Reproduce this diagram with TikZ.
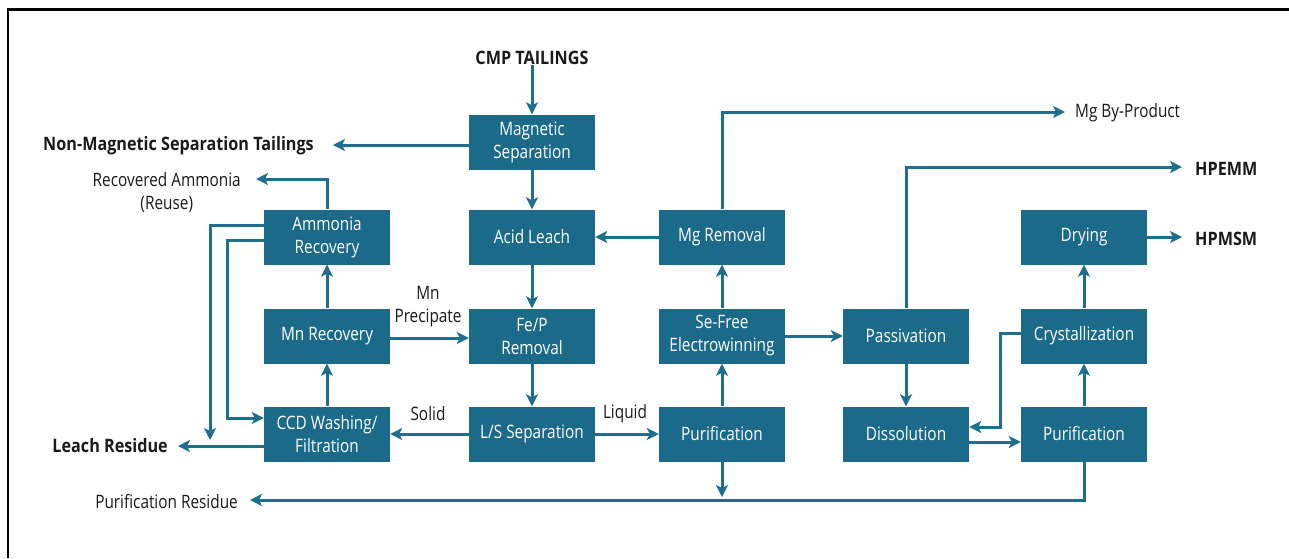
\documentclass[tikz,border=0pt]{standalone}
\usepackage{fontspec}
\setmainfont{Open Sans}[FakeStretch=0.83, BoldFeatures={FakeStretch=0.875}]
\usetikzlibrary{arrows.meta}
\definecolor{boxblue}{HTML}{1B6A8A}
\definecolor{arrblue}{HTML}{1E6E8E}
\definecolor{txt}{HTML}{1A1A1A}
\begin{document}
\begin{tikzpicture}[x=1pt,y=-1pt,
 proc/.style={fill=boxblue, text=white, minimum width=126pt, minimum height=55pt, inner sep=0pt, align=center, font=\fontsize{18.5}{23}\selectfont},
 lbl/.style={text=txt, inner sep=0pt, align=center, font=\fontsize{18.5}{23}\selectfont},
 blbl/.style={text=txt, inner sep=0pt, align=center, font=\fontsize{18.5}{23}\selectfont\bfseries},
 arr/.style={draw=arrblue, line width=3pt, -{Stealth[length=12pt,width=12pt,inset=3pt]}}]
\useasboundingbox (0,0) rectangle (1289,558);
\fill[white] (0,0) rectangle (1289,558);
\draw[line width=3pt] (7,9.5) -- (1289,9.5);
\draw[line width=2pt] (8,8) -- (8,558);
% process boxes
\node[proc] (mag) at (532,142) {Magnetic\\Separation};
\node[proc] (acid) at (532,237) {Acid Leach};
\node[proc] (fep) at (532,336) {Fe/P\\Removal};
\node[proc] (ls) at (532,434) {L/S Separation};
\node[proc] (amm) at (327,237) {Ammonia\\Recovery};
\node[proc] (mnr) at (327,336) {Mn Recovery};
\node[proc] (ccd) at (327,434) {CCD Washing/\\Filtration};
\node[proc] (mgr) at (722,237) {Mg Removal};
\node[proc] (sef) at (722,336) {Se-Free\\Electrowinning};
\node[proc] (pur1) at (722,434) {Purification};
\node[proc] (pas) at (906,336) {Passivation};
\node[proc] (dis) at (906,434) {Dissolution};
\node[proc] (cry) at (1084,336) {Crystallization};
\node[proc] (pur2) at (1084,434) {Purification};
\node[proc] (dry) at (1084,237) {Drying};
% labels
\node[blbl] (cmp) at (532,58) {CMP TAILINGS};
\node[blbl, anchor=east] (nonmag) at (314,146) {Non-Magnetic Separation Tailings};
\node[lbl, anchor=east] (recamm) at (241,192) {Recovered Ammonia\\(Reuse)};
\node[blbl, anchor=east] (leach) at (168,446) {Leach Residue};
\node[lbl, anchor=east] (purres) at (238,501) {Purification Residue};
\node[lbl] (mnp) at (428,307) {Mn\\Precipate};
\node[lbl] (solid) at (428,414) {Solid};
\node[lbl] (liquid) at (625,414) {Liquid};
\node[lbl, anchor=west] (mgbp) at (1075,113) {Mg By-Product};
\node[blbl, anchor=west] (hpemm) at (1195,169) {HPEMM};
\node[blbl, anchor=west] (hpmsm) at (1195,239) {HPMSM};
% free ends
\coordinate (nmt) at (333,145);
\coordinate (rat) at (256,179);
\coordinate (lr1) at (210,440);
\coordinate (k) at (227,418);
\coordinate (lrt) at (178,446);
\coordinate (mgt) at (1065,112);
\coordinate (hpt) at (1182,167);
\coordinate (hpm) at (1182,237);
\coordinate (cr) at (1000,427);
\coordinate (prt) at (250,500);
\coordinate (p1d) at (722,497);
% connectors
\draw[arr] (cmp) -- (mag);
\draw[arr] (mag.west |- nmt) -- (nmt);
\draw[arr] (mag) -- (acid);
\draw[arr] (acid) -- (fep);
\draw[arr] (fep) -- (ls);
\draw[arr] (ls) -- (ccd);
\draw[arr] (ls) -- (pur1);
\draw[arr] ([yshift=-2pt]mnr.east) -- ([yshift=-2pt]fep.west);
\draw[arr] (ccd) -- (mnr);
\draw[arr] (mnr) -- (amm);
\draw[arr] (amm.north) |- (rat);
\draw[arr] ([yshift=12pt]amm.west) -| (lr1);
\draw[arr] ([yshift=-3pt]amm.west) -| (k) -- (k -| ccd.west);
\draw[arr] (ccd.west |- lrt) -- (lrt);
\draw[arr] (mgr) -- (acid);
\draw[arr] (mgr.north) |- (mgt);
\draw[arr] (pur1) -- (sef);
\draw[arr] (sef) -- (mgr);
\draw[arr] (sef) -- (pas);
\draw[arr] (pas.north) |- (hpt);
\draw[arr] (pas) -- (dis);
\draw[arr] ([yshift=-8pt]dis.east) -- ([yshift=-8pt]pur2.west);
\draw[arr] ([yshift=3pt]cry.west) -| (cr) -- (cr -| dis.east);
\draw[arr] (pur2) -- (cry);
\draw[arr] (cry) -- (dry);
\draw[arr] (dry.east) -- (hpm);
\draw[arr] (pur2.south) |- (prt);
\draw[arr] (pur1.south) -- (p1d);
\end{tikzpicture}
\end{document}
